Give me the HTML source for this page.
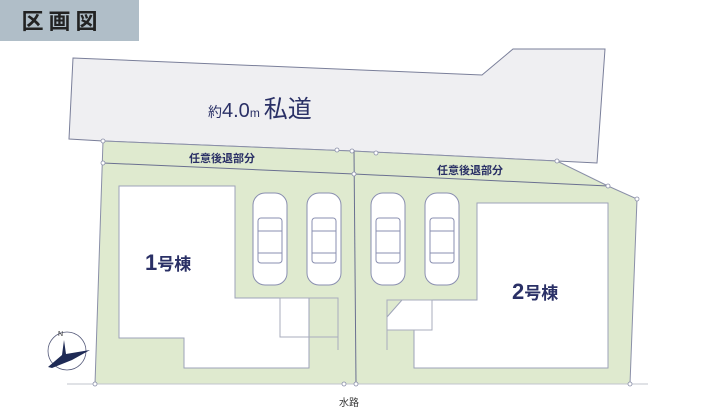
<!DOCTYPE html>
<html><head><meta charset="utf-8"><style>
html,body{margin:0;padding:0;background:#fff;width:709px;height:409px;overflow:hidden}
svg{display:block}
</style></head><body>
<svg width="709" height="409" viewBox="0 0 709 409" xmlns="http://www.w3.org/2000/svg" font-family="Liberation Sans, Noto Sans CJK JP, sans-serif">
<rect x="0" y="0" width="139" height="41" fill="#b0bec8"/>
<text x="62" y="29" font-size="22" font-weight="bold" fill="#222" text-anchor="middle" letter-spacing="5">区画図</text>
<!-- road -->
<polygon points="73,58 482,75 513,49 605,49 597,163 557,161 352,151 103,141 69,139" fill="#efeff2" stroke="#7a7f9a" stroke-width="1"/>
<text x="208" y="117" font-size="14" fill="#2a3066">約<tspan font-size="20">4.0</tspan><tspan font-size="12">m</tspan> <tspan font-size="24">私道</tspan></text>
<!-- lots -->
<polygon points="103,141 352,151 557,161 608,186 637,199 630,384 95,384" fill="#dfeacf" stroke="#8a8fa8" stroke-width="1"/>
<line x1="103" y1="163" x2="354" y2="174" stroke="#6a7090" stroke-width="1"/>
<line x1="354" y1="174" x2="608" y2="186" stroke="#6a7090" stroke-width="1"/>
<line x1="354" y1="150" x2="356" y2="384" stroke="#6a7090" stroke-width="1"/>
<line x1="67" y1="384" x2="648" y2="384" stroke="#c0c4cc" stroke-width="1"/>
<text x="222" y="162" font-size="11" fill="#2a3066" font-weight="bold" text-anchor="middle">任意後退部分</text>
<text x="470" y="174" font-size="11" fill="#2a3066" font-weight="bold" text-anchor="middle">任意後退部分</text>
<!-- buildings -->
<polygon points="119,186 235,186 235,298 309,298 309,368 184,368 184,338 119,338" fill="#fff" stroke="#9ea3b8" stroke-width="1"/>
<rect x="280" y="298" width="58" height="39" fill="none" stroke="#a8acbe" stroke-width="1"/>
<line x1="338" y1="298" x2="338" y2="350" stroke="#a8acbe"/>
<polygon points="477,203 608,203 608,368 414,368 414,330 387,330 387,300 477,300" fill="#fff" stroke="#9ea3b8" stroke-width="1"/>
<polygon points="387,300 402,300 387,317" fill="#dfeacf" stroke="#9ea3b8"/>
<rect x="387" y="300" width="45" height="30" fill="none" stroke="#a8acbe"/>
<line x1="387" y1="330" x2="387" y2="350" stroke="#a8acbe"/>
<text x="145" y="270" font-size="22" fill="#2a3066" font-weight="bold">1<tspan font-size="17">号棟</tspan></text>
<text x="512" y="299" font-size="22" fill="#2a3066" font-weight="bold">2<tspan font-size="17">号棟</tspan></text>
<!-- cars -->
<g fill="#fff" stroke="#8a8fb0" stroke-width="1">
<g transform="translate(253,193)"><rect x="0" y="0" width="34" height="92" rx="12"/><rect x="5" y="25" width="24" height="45" rx="3"/><line x1="5" y1="38" x2="29" y2="38"/><line x1="5" y1="60" x2="29" y2="60"/></g>
<g transform="translate(307,193)"><rect x="0" y="0" width="34" height="92" rx="12"/><rect x="5" y="25" width="24" height="45" rx="3"/><line x1="5" y1="38" x2="29" y2="38"/><line x1="5" y1="60" x2="29" y2="60"/></g>
<g transform="translate(371,193)"><rect x="0" y="0" width="34" height="92" rx="12"/><rect x="5" y="25" width="24" height="45" rx="3"/><line x1="5" y1="38" x2="29" y2="38"/><line x1="5" y1="60" x2="29" y2="60"/></g>
<g transform="translate(425,193)"><rect x="0" y="0" width="34" height="92" rx="12"/><rect x="5" y="25" width="24" height="45" rx="3"/><line x1="5" y1="38" x2="29" y2="38"/><line x1="5" y1="60" x2="29" y2="60"/></g>
</g>
<!-- vertices -->
<g fill="#fff" stroke="#8a8fa8" stroke-width="0.8">
<circle cx="103" cy="141" r="2"/><circle cx="103" cy="163" r="2"/><circle cx="337" cy="150" r="2"/><circle cx="352" cy="151" r="2"/><circle cx="376" cy="153" r="2"/><circle cx="557" cy="161" r="2"/><circle cx="608" cy="186" r="2"/><circle cx="637" cy="199" r="2"/><circle cx="354" cy="174" r="2"/><circle cx="95" cy="384" r="2"/><circle cx="344" cy="384" r="2"/><circle cx="356" cy="384" r="2"/><circle cx="630" cy="384" r="2"/>
</g>
<!-- compass -->
<circle cx="67" cy="351" r="19" fill="none" stroke="#555a7a" stroke-width="0.8"/>
<path d="M48,367 L62,355 L64,340 L66,354 L90,350 L72,360 L52,368 Z" fill="#1e2a55"/>
<text x="58" y="336" font-size="7" fill="#333">N</text>
<text x="349" y="406" font-size="10" fill="#333" text-anchor="middle">水路</text>
</svg>
</body></html>
